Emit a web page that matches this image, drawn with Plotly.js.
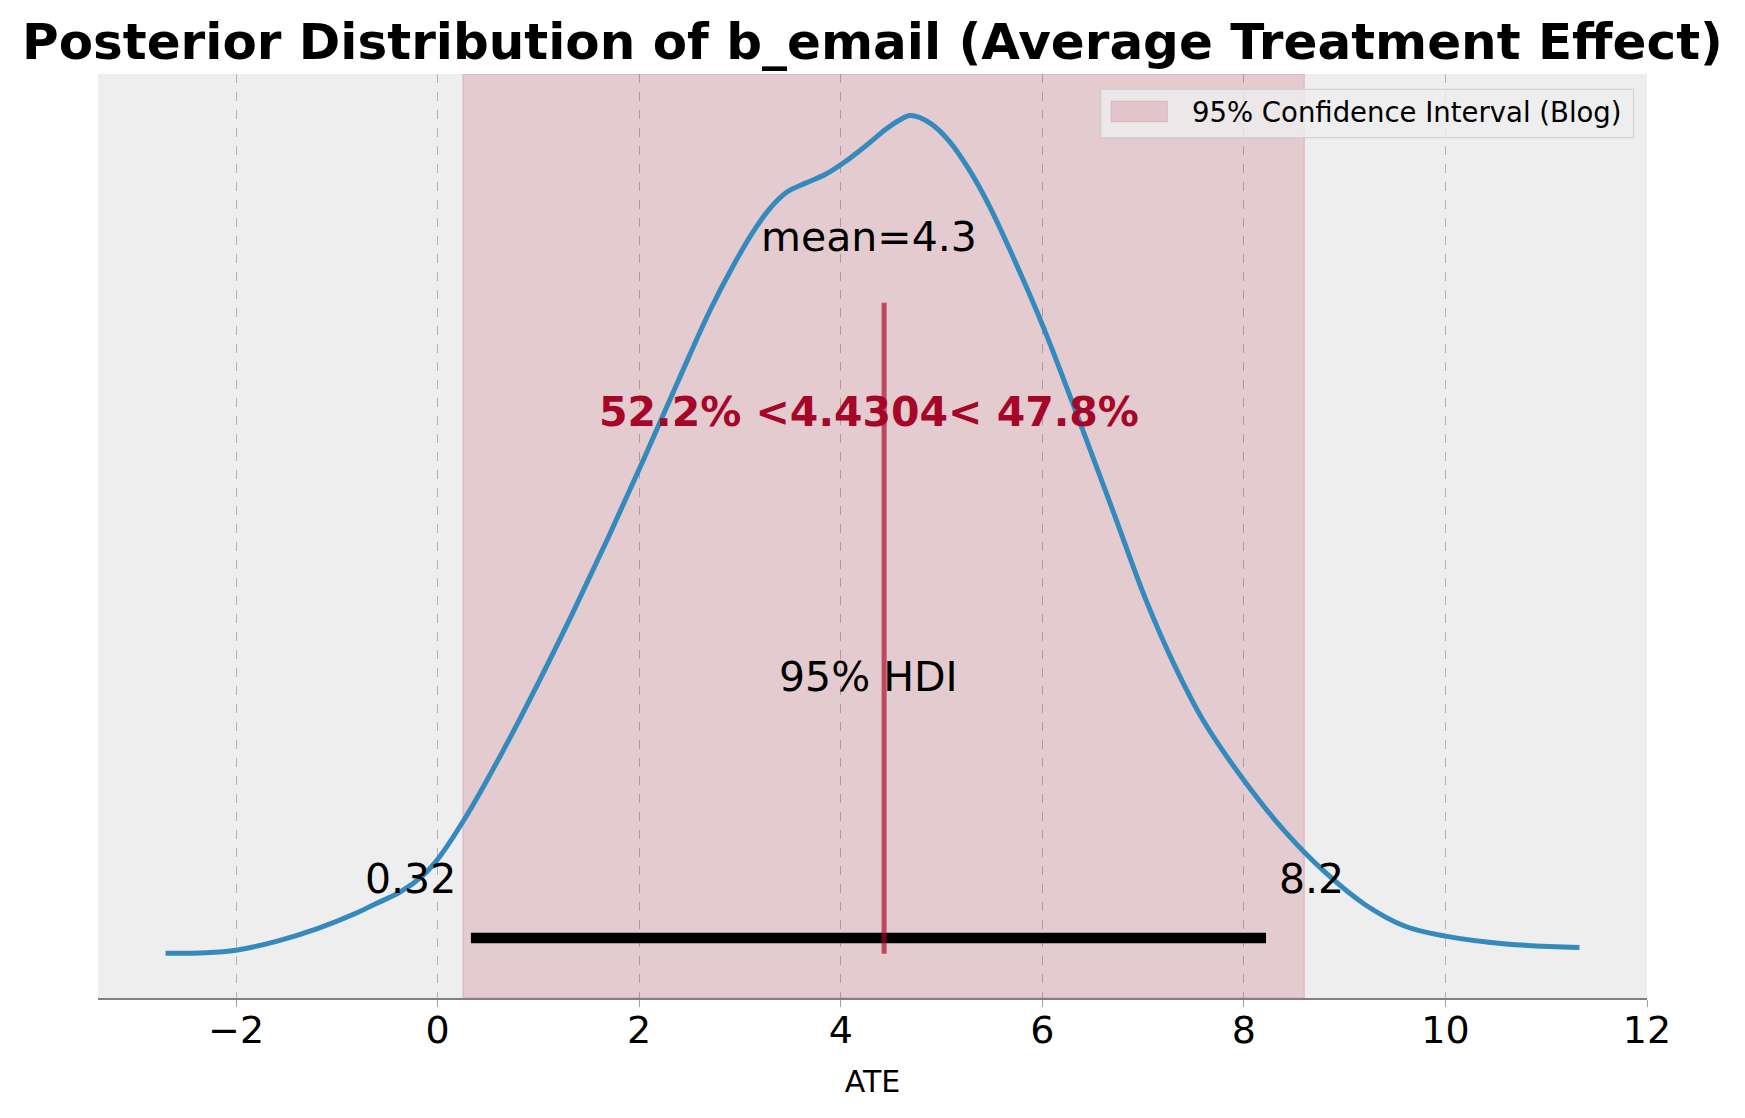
<!DOCTYPE html>
<html>
<head>
<meta charset="utf-8">
<script src="https://cdn.plot.ly/plotly-3.0.1.min.js"></script>
<style>html,body{margin:0;padding:0;background:#fff;}#chart{width:1745px;height:1118px;}</style>
</head>
<body>
<div id="chart"></div>
<script>
// ---- data ----
const ateGrid = [-2.70,-2.30,-2.00,-1.60,-1.20,-0.80,-0.64,-0.37,-0.14,0.02,0.30,0.65,1.00,1.35,1.70,2.05,2.40,2.70,2.93,3.13,3.30,3.46,3.65,3.85,4.05,4.25,4.45,4.58,4.69,4.89,5.08,5.28,5.48,5.71,6.01,6.24,6.44,6.70,7.03,7.30,7.60,8.00,8.40,8.80,9.20,9.60,10.00,10.60,11.33];
const density = [0.0086,0.0087,0.0092,0.0109,0.0133,0.0164,0.0179,0.0204,0.0237,0.0272,0.0355,0.0476,0.0607,0.0745,0.0889,0.1039,0.1193,0.1322,0.1408,0.1474,0.1520,0.1550,0.1568,0.1585,0.1610,0.1640,0.1672,0.1689,0.1698,0.1683,0.1648,0.1592,0.1522,0.1426,0.1291,0.1176,0.1073,0.0938,0.0765,0.0645,0.0533,0.0419,0.0322,0.0243,0.0180,0.0138,0.0119,0.0104,0.0097];
const hdiBounds = [0.33, 8.22];
const hdiLabels = ["0.32", "8.2"];
const meanValue = 4.28;
const meanLabel = "mean=4.3";
const refValue = 4.4304;
const refShares = ["52.2%", "47.8%"];
const blogCI = [0.25, 8.6];
const blogCIName = "95% Confidence Interval (Blog)";
const tickVals = [-2, 0, 2, 4, 6, 8, 10, 12];

// ---- layout constants ----
const yTop = 0.1778;
const hdiY = 0.01154;
const refLineY = [0.0085, 0.1338];
const FONT = "DejaVu Sans, Verdana, sans-serif";
const bandFill = "rgba(166,6,40,0.15)";

const traces = [
  { // blog confidence band
    type: "bar", name: blogCIName,
    x: [(blogCI[0] + blogCI[1]) / 2], width: [blogCI[1] - blogCI[0]], y: [yTop], base: [0],
    marker: {color: bandFill, line: {color: "rgba(166,6,40,0.12)", width: 1.5}},
    hoverinfo: "skip", showlegend: false
  },
  { // posterior density
    type: "scatter", mode: "lines", x: ateGrid, y: density,
    line: {color: "#348ABD", width: 5, shape: "spline", smoothing: 1.0},
    showlegend: false, hoverinfo: "skip"
  },
  { // HDI bar
    type: "scatter", mode: "lines", x: hdiBounds, y: [hdiY, hdiY],
    line: {color: "#000000", width: 10.5}, showlegend: false, hoverinfo: "skip"
  },
  { // reference value line
    type: "scatter", mode: "lines", x: [refValue, refValue], y: refLineY,
    line: {color: "rgba(166,6,40,0.66)", width: 5}, showlegend: false, hoverinfo: "skip"
  }
];

const annFont = {family: FONT, size: 41, color: "#000000"};
const annotations = [
  {x: meanValue, y: 0.1464, text: meanLabel, font: annFont},
  {x: 4.279, y: 0.1127, text: "<b>" + refShares[0] + " &lt;" + refValue + "&lt; " + refShares[1] + "</b>",
   font: {family: FONT, size: 41, color: "#A60628"}},
  {x: (hdiBounds[0] + hdiBounds[1]) / 2, y: 0.0618, text: "95% HDI", font: annFont},
  {x: -0.266, y: 0.0229, text: hdiLabels[0], font: annFont},
  {x: 8.675, y: 0.0229, text: hdiLabels[1], font: annFont}
].map(a => Object.assign({xref: "x", yref: "y", showarrow: false, xanchor: "center", yanchor: "middle"}, a));

// hand-drawn legend (matplotlib style box with a wide colour patch)
annotations.push({
  xref: "paper", yref: "paper", x: 0.7050, y: 0.9594, xanchor: "left", yanchor: "middle",
  showarrow: false, text: blogCIName, font: {family: FONT, size: 27.5, color: "#000000"}
});
const shapes = [
  {type: "rect", xref: "paper", yref: "paper", x0: 0.6473, x1: 0.9913, y0: 0.9311, y1: 0.9834,
   fillcolor: "rgba(238,238,238,0.8)", line: {color: "rgba(204,204,204,0.8)", width: 1.2}, layer: "above"},
  {type: "rect", xref: "paper", yref: "paper", x0: 0.6540, x1: 0.6904, y0: 0.9481, y1: 0.9708,
   fillcolor: bandFill, line: {color: "rgba(166,6,40,0.12)", width: 1}, layer: "above"}
];

const layout = {
  width: 1745, height: 1118,
  paper_bgcolor: "#ffffff", plot_bgcolor: "#EEEEEE",
  margin: {l: 98, r: 98, t: 74, b: 120, pad: 0},
  title: {
    text: "<b>Posterior Distribution of b_email (Average Treatment Effect)</b>",
    font: {family: FONT, size: 50, color: "#000000"},
    x: 0.5, xanchor: "center", xref: "paper",
    y: 1 - 41 / 1118, yanchor: "middle", yref: "container"
  },
  xaxis: {
    range: [-3.37, 12.0], tickvals: tickVals, ticktext: tickVals.map(v => v < 0 ? "\u2212" + Math.abs(v) : String(v)),
    showgrid: true, gridcolor: "#B2B2B2", griddash: "dash", gridwidth: 1,
    zeroline: false, showline: true, linecolor: "#808080", linewidth: 2,
    ticks: "outside", ticklen: 7, tickcolor: "#A0A0A0", tickwidth: 1,
    ticklabelstandoff: -10,
    tickfont: {family: FONT, size: 38, color: "#000000"},
    title: {text: "ATE", font: {family: FONT, size: 30, color: "#000000"}, standoff: 20},
    fixedrange: true
  },
  yaxis: {range: [0, yTop], visible: false, showgrid: false, zeroline: false, fixedrange: true},
  barmode: "overlay",
  annotations: annotations,
  shapes: shapes,
  showlegend: false
};

Plotly.newPlot("chart", traces, layout, {displayModeBar: false, staticPlot: true});
</script>
</body>
</html>
